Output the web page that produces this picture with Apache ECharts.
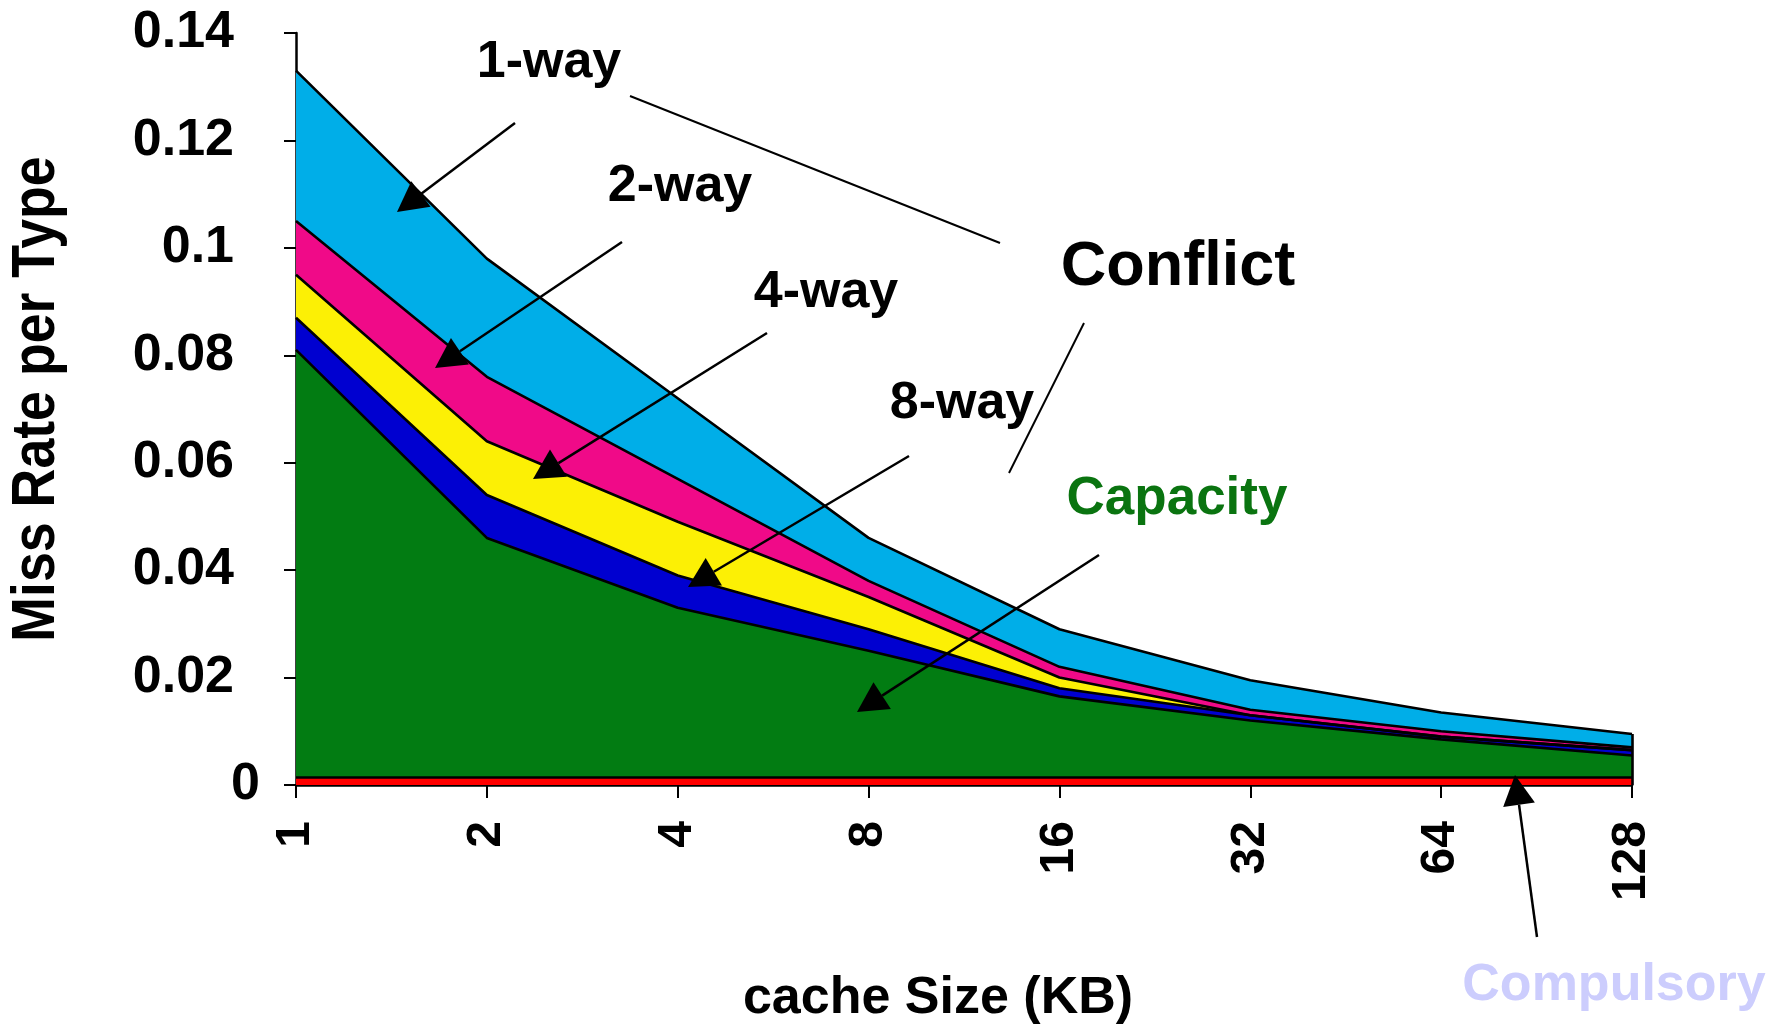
<!DOCTYPE html>
<html>
<head>
<meta charset="utf-8">
<script src="https://cdn.jsdelivr.net/npm/echarts@6/dist/echarts.min.js"></script>
<style>
  html, body { margin: 0; padding: 0; background: #fff; }
  #chart { width: 1787px; height: 1030px; }
</style>
</head>
<body>
<div id="chart"></div>
<script>
// cache sizes (KB)
var sizes = ['1', '2', '4', '8', '16', '32', '64', '128'];
// top edge of each band (total miss rate up to that band)
var oneWay    = [0.133, 0.098, 0.072, 0.046, 0.029, 0.0195, 0.0135, 0.0095];
var twoWay    = [0.105, 0.076, 0.057, 0.038, 0.022, 0.014, 0.010, 0.007];
var fourWay   = [0.095, 0.064, 0.049, 0.035, 0.020, 0.013, 0.009, 0.0065];
var eightWay  = [0.087, 0.054, 0.039, 0.029, 0.018, 0.013, 0.009, 0.0065];
var capacity  = [0.081, 0.046, 0.033, 0.025, 0.0165, 0.012, 0.0085, 0.0055];
var compulsory = [0.0014, 0.0014, 0.0014, 0.0014, 0.0014, 0.0014, 0.0014, 0.0014];
var yTicks = [0, 0.02, 0.04, 0.06, 0.08, 0.1, 0.12, 0.14];

var FONT = '"Liberation Sans", Arial, sans-serif';

function band(name, data, color) {
  return {
    name: name,
    type: 'line',
    data: data,
    symbol: 'none',
    silent: true,
    lineStyle: { color: '#000', width: 2.6 },
    areaStyle: { color: color, opacity: 1 }
  };
}

function arrow(x1, y1, x2, y2) {
  var dx = x2 - x1, dy = y2 - y1;
  var len = Math.sqrt(dx * dx + dy * dy);
  var ux = dx / len, uy = dy / len;
  var hl = 30, hw = 16;
  var bx = x2 - ux * hl, by = y2 - uy * hl;
  return [
    { type: 'line', silent: true, z: 100, shape: { x1: x1, y1: y1, x2: bx, y2: by },
      style: { stroke: '#000', lineWidth: 2.5 } },
    { type: 'polygon', silent: true, z: 100,
      shape: { points: [[x2, y2], [bx - uy * hw, by + ux * hw], [bx + uy * hw, by - ux * hw]] },
      style: { fill: '#000' } }
  ];
}

function label(text, x, y, size, color) {
  return {
    type: 'text', silent: true, z: 100,
    style: { text: text, x: x, y: y, fill: color || '#000', align: 'center', verticalAlign: 'middle',
             font: 'bold ' + size + 'px ' + FONT }
  };
}

var graphics = [].concat(
  label('1-way', 549, 63, 52),
  arrow(515, 123, 397, 212),
  [{ type: 'line', silent: true, z: 100, shape: { x1: 630, y1: 96, x2: 1000, y2: 243 },
     style: { stroke: '#000', lineWidth: 2 } }],
  label('2-way', 680, 187, 52),
  arrow(622, 242, 435, 368),
  label('4-way', 826, 293, 52),
  arrow(767, 333, 533, 479),
  label('8-way', 962, 404, 52),
  arrow(909, 456, 688, 587),
  label('Conflict', 1178, 268, 63),
  [{ type: 'line', silent: true, z: 100, shape: { x1: 1084, y1: 323, x2: 1009, y2: 473 },
     style: { stroke: '#000', lineWidth: 2 } }],
  label('Capacity', 1177, 499, 53, '#0a7410'),
  arrow(1099, 555, 857, 712),
  arrow(1537, 937, 1515, 775),
  label('Compulsory', 1614, 986, 52, '#cccdfd'),
  // y axis title, condensed like the original narrow face
  [{
    type: 'text', silent: true, z: 100,
    x: 37, y: 399, rotation: Math.PI / 2, scaleX: 0.88,
    style: { text: 'Miss Rate per Type', x: 0, y: 0, fill: '#000', align: 'center', verticalAlign: 'middle',
             font: 'bold 61px ' + FONT }
  }]
);

var chart = echarts.init(document.getElementById('chart'));
var oneWaySeries = band('1-way', oneWay, '#00aee8');
oneWaySeries.markLine = {
  silent: true,
  symbol: 'none',
  label: { show: false },
  lineStyle: { color: '#000', width: 2.6, type: 'solid' },
  data: [[{ coord: [sizes.length - 1, 0] }, { coord: [sizes.length - 1, oneWay[oneWay.length - 1]] }]]
};

chart.setOption({
  animation: false,
  backgroundColor: '#fff',
  grid: { left: 296, right: 155, top: 33, bottom: 245, containLabel: false, outerBoundsMode: 'none' },
  xAxis: {
    type: 'category',
    data: sizes,
    boundaryGap: false,
    name: 'cache Size (KB)',
    nameLocation: 'middle',
    nameGap: 188,
    nameTextStyle: { fontFamily: FONT, fontWeight: 'bold', fontSize: 52, color: '#000', padding: [0, 52, 0, 0] },
    axisLine: { lineStyle: { color: '#000', width: 2.5 } },
    axisTick: { show: true, length: 13, lineStyle: { color: '#000', width: 2 } },
    axisLabel: { rotate: 90, margin: 36, fontFamily: FONT, fontWeight: 'bold', fontSize: 48, color: '#000' },
    splitLine: { show: false }
  },
  yAxis: {
    type: 'value',
    min: 0,
    max: 0.14,
    interval: 0.02,
    axisLine: { show: true, lineStyle: { color: '#000', width: 2.5 } },
    axisTick: { show: true, length: 12, lineStyle: { color: '#000', width: 2 } },
    axisLabel: {
      margin: 62, fontFamily: FONT, fontWeight: 'bold', fontSize: 52, color: '#000',
      formatter: function (v) {
        var i = yTicks.indexOf(Math.round(v * 100) / 100);
        if (i < 0) return '';
        return yTicks[i] === 0 ? '{z|0}' : String(yTicks[i]);
      },
      rich: {
        z: { fontFamily: FONT, fontWeight: 'bold', fontSize: 52, color: '#000', padding: [0, -26, 0, 0] }
      }
    },
    splitLine: { show: false }
  },
  series: [
    oneWaySeries,
    band('2-way', twoWay, '#f00a88'),
    band('4-way', fourWay, '#fcf005'),
    band('8-way', eightWay, '#0000d0'),
    band('Capacity', capacity, '#027c12'),
    band('Compulsory', compulsory, '#ff0000')
  ],
  graphic: graphics
});
</script>
</body>
</html>
